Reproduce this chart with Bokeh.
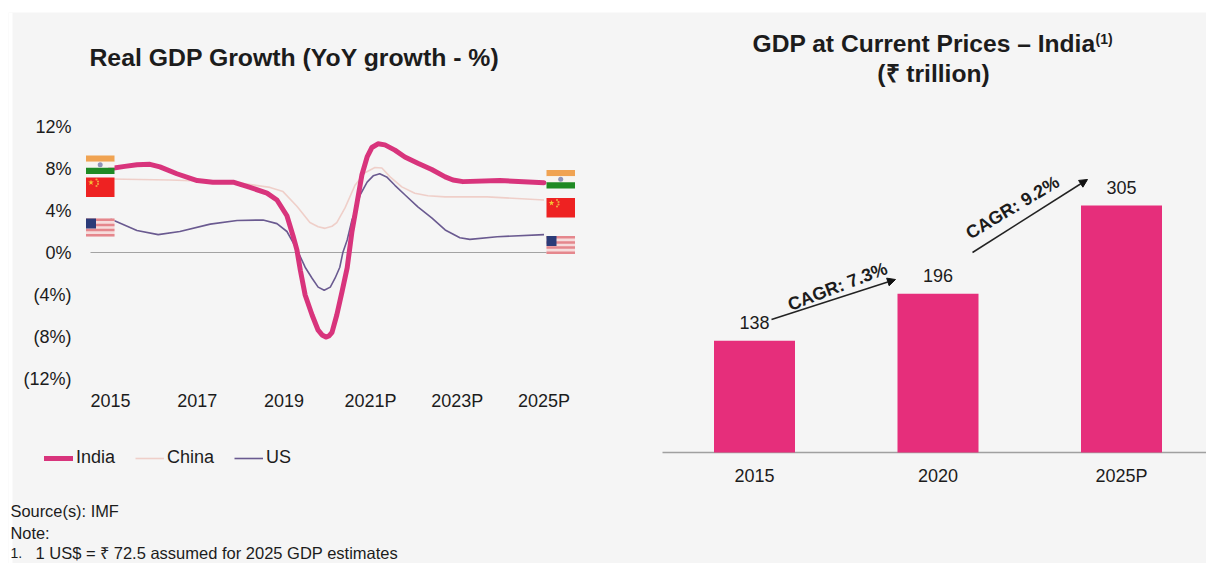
from bokeh.plotting import figure
from bokeh.layouts import row
from bokeh.models import Label, Arrow, NormalHead, FixedTicker, Legend, LegendItem, Range1d
from bokeh.core.properties import value
from bokeh.embed import file_html
from bokeh.resources import INLINE

FONT = "Liberation Sans"
INK = "#1c1c1c"
BG = "#f5f5f5"

# ---------- data ----------
india_years = [2015.0, 2015.33, 2015.61, 2015.91, 2016.14, 2016.53, 2017.0, 2017.36, 2017.83, 2018.22,
               2018.61, 2018.84, 2019.07, 2019.21, 2019.30, 2019.38, 2019.49, 2019.65, 2019.79, 2019.88,
               2019.97, 2020.04, 2020.11, 2020.22, 2020.34, 2020.46, 2020.57, 2020.69, 2020.80, 2020.92,
               2021.03, 2021.17, 2021.33, 2021.56, 2021.79, 2022.09, 2022.41, 2022.72, 2022.90, 2023.13,
               2023.98, 2025.0]
india_values = [8.0, 8.2, 8.35, 8.4, 8.15, 7.5, 6.85, 6.7, 6.7, 6.2,
                5.65, 5.0, 3.5, 1.6, 0.25, -1.7, -4.05, -5.95, -7.4, -7.85,
                -8.05, -7.95, -7.6, -5.95, -3.75, -1.45, 2.0, 4.8, 7.4, 9.1,
                10.0, 10.35, 10.25, 9.75, 9.1, 8.5, 7.9, 7.2, 6.9, 6.75,
                6.85, 6.65]
china_years = [2015.0, 2016.37, 2017.83, 2018.68, 2018.98, 2019.30, 2019.60, 2019.79, 2019.95, 2020.11,
               2020.22, 2020.41, 2020.64, 2020.87, 2021.10, 2021.26, 2021.45, 2021.72, 2022.02, 2022.32,
               2022.72, 2023.69, 2025.0]
china_values = [7.0, 6.9, 6.7, 6.2, 5.8, 4.4, 2.85, 2.45, 2.3, 2.5,
                2.85, 4.25, 6.4, 7.6, 8.1, 8.05, 7.2, 6.25, 5.65, 5.4,
                5.3, 5.3, 5.0]
us_years = [2015.0, 2015.61, 2016.10, 2016.60, 2017.30, 2017.92, 2018.52, 2018.84, 2019.07, 2019.30,
            2019.49, 2019.65, 2019.79, 2019.93, 2020.07, 2020.18, 2020.29, 2020.36, 2020.46, 2020.57,
            2020.64, 2020.76, 2020.92, 2021.06, 2021.21, 2021.37, 2021.56, 2021.79, 2022.09, 2022.41,
            2022.72, 2023.06, 2023.29, 2023.92, 2025.0]
us_values = [3.2, 2.1, 1.7, 2.0, 2.7, 3.05, 3.1, 2.75, 2.0, 0.3,
             -1.4, -2.45, -3.3, -3.6, -3.3, -2.45, -1.4, 0.0, 1.2, 3.1,
             3.85, 5.5, 6.7, 7.3, 7.5, 7.2, 6.4, 5.5, 4.35, 3.3,
             2.15, 1.4, 1.25, 1.5, 1.7]
line_ticks = [2015, 2017, 2019, 2021, 2023, 2025]
line_tick_labels = ["2015", "2017", "2019", "2021P", "2023P", "2025P"]
y_ticks = [-12, -8, -4, 0, 4, 8, 12]
y_tick_labels = ["(12%)", "(8%)", "(4%)", "0%", "4%", "8%", "12%"]

bar_labels = ["2015", "2020", "2025P"]
bar_values = [138, 196, 305]

# ---------- left chart ----------
TOP_EDGE, LEFT_EDGE, PANEL_LEFT, BOTTOM_EDGE, SPLIT = 12, 8, 12, 563, 650
PER_YEAR = 43.35
PER_PCT = 10.5
x0 = 2015 - (110 - LEFT_EDGE) / PER_YEAR
x1 = x0 + (SPLIT - LEFT_EDGE) / PER_YEAR


def lx(px):
    return x0 + (px - LEFT_EDGE) / PER_YEAR


def ly(py):
    return 12 - (py - 126) / PER_PCT


left = figure(width=SPLIT - LEFT_EDGE, height=BOTTOM_EDGE - TOP_EDGE, output_backend="svg", toolbar_location=None,
              x_range=Range1d(x0, x1), y_range=Range1d(ly(BOTTOM_EDGE), ly(TOP_EDGE)),
              min_border=0, margin=(TOP_EDGE, 0, 0, LEFT_EDGE),
              background_fill_color=BG, border_fill_color=BG, outline_line_color=None)
left.grid.visible = False

for ax, ticks, labels in ((left.xaxis[0], line_ticks, line_tick_labels), (left.yaxis[0], y_ticks, y_tick_labels)):
    ax.ticker = FixedTicker(ticks=ticks)
    ax.major_label_overrides = dict(zip(ticks, labels))
    ax.axis_line_color = None
    ax.major_tick_line_color = None
    ax.minor_tick_line_color = None
    ax.major_label_text_font = FONT
    ax.major_label_text_font_size = "18px"
    ax.major_label_text_color = INK
left.xaxis[0].major_label_standoff = 5
left.yaxis[0].major_label_standoff = 8
left.xaxis[0].fixed_location = ly(379)
left.yaxis[0].fixed_location = lx(85)

# the white page margin continues under the footnote text
left.quad(left=[lx(LEFT_EDGE)], right=[lx(PANEL_LEFT)], top=[ly(TOP_EDGE)], bottom=[ly(BOTTOM_EDGE)],
          fill_color="#ffffff", line_color=None)
left.line([lx(90), lx(573)], [0, 0], line_color="#a3a3a3", line_width=1.2)
r_china = left.line(china_years, china_values, line_color="#efcfc9", line_width=1.6, line_join="round")
r_us = left.line(us_years, us_values, line_color="#6a5a90", line_width=1.6, line_join="round")
r_india = left.line(india_years, india_values, line_color="#d8347c", line_width=5, line_join="round", line_cap="round")


def box(px0, px1, py0, py1, color):
    left.quad(left=[lx(px0)], right=[lx(px1)], top=[ly(py0)], bottom=[ly(py1)],
              fill_color=color, line_color=None)


def india_flag(px, py):
    h = 18.5
    box(px, px + 28.5, py, py + h / 3, "#f0a352")
    box(px, px + 28.5, py + h / 3, py + 2 * h / 3, "#f7f4f0")
    box(px, px + 28.5, py + 2 * h / 3, py + h, "#1f8a24")
    left.scatter([lx(px + 14.2)], [ly(py + h / 2)], size=5, marker="circle", fill_color="#8f93b8", line_color=None)


def china_flag(px, py):
    box(px, px + 28.5, py, py + 19.5, "#ee2222")
    left.scatter([lx(px + 5)], [ly(py + 5)], size=6, marker="star", fill_color="#f3c533", line_color=None)
    left.scatter([lx(px + 10.5), lx(px + 12), lx(px + 12), lx(px + 10.5)],
                 [ly(py + 2), ly(py + 4), ly(py + 6.5), ly(py + 8.5)],
                 size=2.2, marker="circle", fill_color="#f0a040", line_color=None)


def us_flag(px, py):
    h = 18.0
    box(px, px + 28.5, py, py + h, "#f6dcdc")
    for i in range(0, 7, 2):
        box(px, px + 28.5, py + i * h / 7, py + (i + 1) * h / 7, "#e5878d")
    box(px, px + 10, py, py + h * 0.55, "#2b3b78")


india_flag(85.5, 155)
china_flag(85.5, 177)
us_flag(85.5, 218)
india_flag(546, 169.5)
china_flag(546, 197.5)
us_flag(546, 235.5)

legend = Legend(items=[LegendItem(label="India", renderers=[r_india]),
                       LegendItem(label="China", renderers=[r_china]),
                       LegendItem(label="US", renderers=[r_us])],
                orientation="horizontal", location=(44 - LEFT_EDGE, BOTTOM_EDGE - 468),
                glyph_width=29, glyph_height=18, label_standoff=3, spacing=20, padding=0, margin=0,
                background_fill_alpha=0, border_line_alpha=0,
                label_text_font=FONT, label_text_font_size="18px", label_text_color=INK)
left.add_layout(legend, "center")


def left_text(text, px, py, size, style="normal", align="left"):
    left.add_layout(Label(x=lx(px), y=ly(py), text=text, text_font=FONT, text_font_size=size,
                          text_font_style=style, text_align=align, text_baseline="middle", text_color=INK))


left_text("Real GDP Growth (YoY growth - %)", 294, 57, "24.8px", "bold", "center")
left_text("Source(s): IMF", 10, 510, "16.4px")
left_text("Note:", 10, 532, "16.4px")
left_text("1.", 10, 552, "14px")
left_text("1 US$ = ₹ 72.5 assumed for 2025 GDP estimates", 35, 552, "16.5px")

# ---------- right chart ----------
PER_BAR = 183.5
C0 = 754
BASE = 452
PER_UNIT = 0.81
RIGHT_X = SPLIT - 1
bx0 = (RIGHT_X - C0) / PER_BAR
bx1 = (1206 - C0) / PER_BAR
positions = list(range(len(bar_values)))


def rx(px):
    return bx0 + (px - RIGHT_X) / PER_BAR


def ry(py):
    return (BASE - py) / PER_UNIT


right = figure(width=1206 - RIGHT_X, height=BOTTOM_EDGE - TOP_EDGE, output_backend="svg", toolbar_location=None,
               x_range=Range1d(bx0, bx1), y_range=Range1d(ry(BOTTOM_EDGE), ry(TOP_EDGE)),
               min_border=0, margin=(TOP_EDGE, 0, 0, -1),
               background_fill_color=BG, border_fill_color=BG, outline_line_color=None)
right.grid.visible = False
right.yaxis.visible = False
ax = right.xaxis[0]
ax.ticker = FixedTicker(ticks=positions)
ax.major_label_overrides = dict(zip(positions, bar_labels))
ax.axis_line_color = None
ax.major_tick_line_color = None
ax.minor_tick_line_color = None
ax.major_label_text_font = FONT
ax.major_label_text_font_size = "18px"
ax.major_label_text_color = INK
ax.major_label_standoff = 7
ax.fixed_location = 0

right.line([rx(662), rx(1206)], [0, 0], line_color="#a0a0a0", line_width=1.5)
right.vbar(x=positions, top=bar_values, width=81 / PER_BAR, fill_color="#e62e7b", line_color=None)
right.text(x=positions, y=bar_values, text=[str(v) for v in bar_values], text_font=value(FONT),
           text_font_size="18px", text_color=INK, text_align="center", text_baseline="middle", y_offset=-18)


def right_text(text, px, py, size, style="normal", align="left", angle=0):
    right.add_layout(Label(x=rx(px), y=ry(py), text=text, text_font=FONT, text_font_size=size, text_font_style=style,
                           text_align=align, text_baseline="middle", text_color=INK, angle=angle, angle_units="deg"))


def arrow(px0, py0, px1, py1):
    right.add_layout(Arrow(end=NormalHead(size=8, fill_color="#111111", line_color="#111111"),
                           x_start=rx(px0), y_start=ry(py0), x_end=rx(px1), y_end=ry(py1),
                           line_color="#222222", line_width=1.5))


right_text("GDP at Current Prices – India", 752, 43, "24.6px", "bold")
right_text("(1)", 1095, 38, "14px", "bold")
right_text("(₹ trillion)", 933, 73, "24.6px", "bold", "center")
arrow(771, 319, 895, 279)
arrow(972, 252, 1087, 179)
right_text("CAGR: 7.3%", 837, 286, "18px", "bold", "center", 21)
right_text("CAGR: 9.2%", 1012, 207, "18px", "bold", "center", 31)

open("out.html", "w").write(file_html(row(left, right), INLINE))
